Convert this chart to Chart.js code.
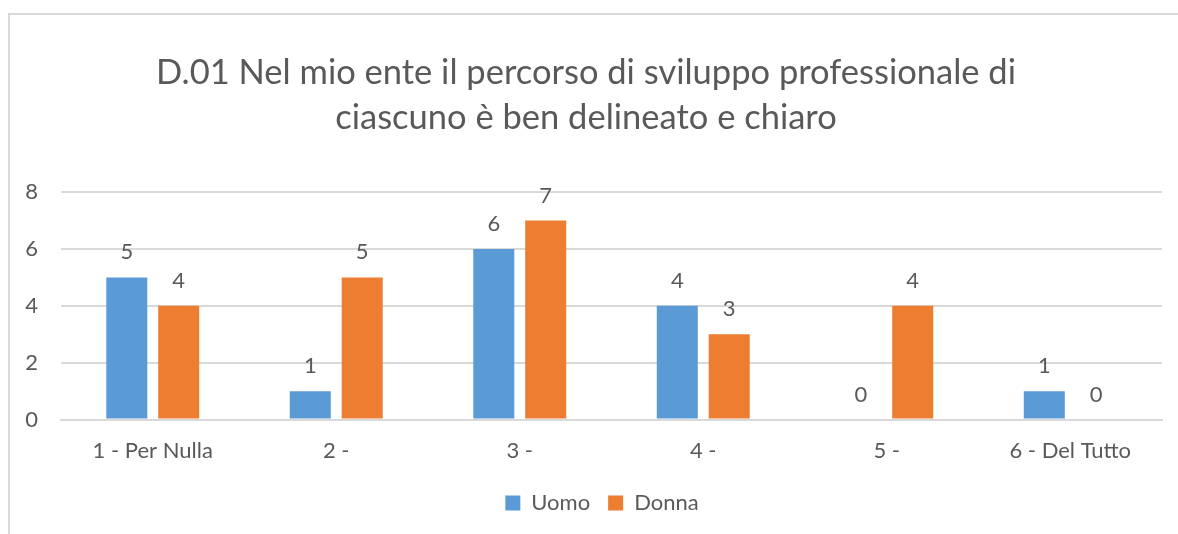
<!DOCTYPE html>
<html>
<head>
<meta charset="utf-8">
<script src="https://cdn.jsdelivr.net/npm/chart.js@4"></script>
<style>
  html, body { margin: 0; padding: 0; background: #fff; overflow: hidden; }
  #wrap { position: relative; width: 1178px; height: 534px; }
  #frame { position: absolute; left: 8px; top: 13px; width: 1200px; height: 600px;
           border: 2px solid #d9d9d9; box-sizing: border-box; }
  canvas { position: absolute; left: 0; top: 0; }
</style>
</head>
<body>
<div id="wrap">
  <div id="frame"></div>
  <canvas id="grafico" width="1178" height="534"></canvas>
</div>
<script>
const categorie = ["1 - Per Nulla", "2 -", "3 -", "4 -", "5 -", "6 - Del Tutto"];
const uomo = [5, 1, 6, 4, 0, 1];
const donna = [4, 5, 7, 3, 4, 0];
const titolo = [
  "D.01 Nel mio ente il percorso di sviluppo professionale di",
  "ciascuno è ben delineato e chiaro",
];

const grigio = "#595959";
const font = "Lato, 'Open Sans', sans-serif";

// etichette dei valori sopra le barre
const etichette = {
  id: "etichette",
  afterLayout(chart) {
    // legenda leggermente spostata a destra come nell'originale
    chart.legend.left += 16;
    chart.legend.right += 16;
  },
  afterDatasetsDraw(chart) {
    const ctx = chart.ctx;
    ctx.save();
    ctx.font = "22px " + font;
    ctx.fillStyle = grigio;
    ctx.textAlign = "center";
    ctx.textBaseline = "alphabetic";
    chart.data.datasets.forEach((ds, i) => {
      chart.getDatasetMeta(i).data.forEach((bar, j) => {
        ctx.fillText(ds.data[j], bar.x, bar.y - 18);
      });
    });
    ctx.restore();
  },
};

new Chart(document.getElementById("grafico"), {
  type: "bar",
  data: {
    labels: categorie,
    datasets: [
      { label: "Uomo", data: uomo, backgroundColor: "#5b9bd5" },
      { label: "Donna", data: donna, backgroundColor: "#ed7d31" },
    ],
  },
  options: {
    responsive: false,
    animation: false,
    categoryPercentage: 0.566,
    barPercentage: 0.79,
    layout: { padding: { left: 10, right: 16, top: 50, bottom: 10 } },
    plugins: {
      title: {
        display: true,
        text: titolo,
        color: grigio,
        font: { family: font, size: 34.5, weight: "normal", lineHeight: 1.32 },
        padding: { top: 0, bottom: 51 },
      },
      legend: {
        position: "bottom",
        labels: {
          color: grigio,
          font: { family: font, size: 22 },
          boxWidth: 15,
          boxHeight: 15,
          padding: 18,
        },
      },
      tooltip: { enabled: false },
    },
    scales: {
      x: {
        grid: { display: false },
        border: { color: "#d9d9d9", width: 2 },
        ticks: { color: grigio, font: { family: font, size: 22 }, padding: 10 },
      },
      y: {
        min: 0,
        max: 8,
        ticks: { stepSize: 2, color: grigio, font: { family: font, size: 22 }, padding: 23 },
        grid: { color: "#d9d9d9", lineWidth: 2, drawTicks: false },
        border: { display: false },
        afterFit(scale) { scale.width = 51; },
      },
    },
  },
  plugins: [etichette],
});
</script>
</body>
</html>
